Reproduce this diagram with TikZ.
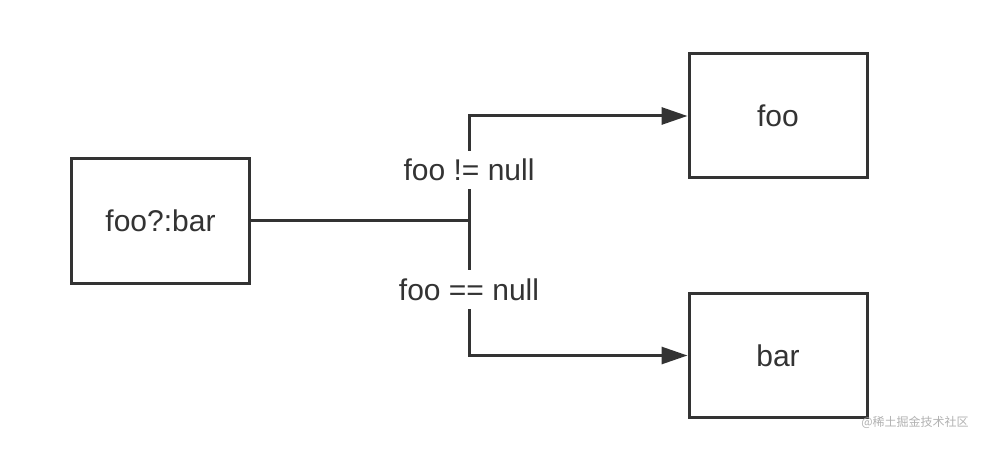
\documentclass[tikz,border=0pt]{standalone}
\usepackage{fontspec}
\setmainfont{Liberation Sans}
\newfontfamily\cjkfont{Noto Sans CJK SC}
\usetikzlibrary{arrows.meta}
\definecolor{ink}{HTML}{333333}
\begin{document}
\begin{tikzpicture}[x=1pt,y=-1pt,
  box/.style={draw=ink,line width=3pt,fill=white,minimum width=178pt,minimum height=125pt,inner sep=0pt,
    font=\fontsize{30}{36}\selectfont,text=ink},
  conn/.style={draw=ink,line width=3pt},
  arr/.style={conn,-{Triangle[length=26pt,width=17pt]}},
  lbl/.style={fill=white,inner xsep=2pt,inner ysep=0pt,minimum height=38pt,font=\fontsize{30}{36}\selectfont,text=ink}]
\useasboundingbox[fill=white] (0,0) rectangle (1001,470);
\node[box] (src) at (160.5,221) {foo?:bar};
\node[box,minimum height=124pt] (foo) at (778,116) {foo};
\node[box,minimum height=123pt] (bar) at (778,355.5) {bar};
\coordinate (j) at (469,221);
\draw[conn] (src.east) -- (j);
\draw[arr] (j) |- (foo.west);
\draw[arr] (j) |- (bar.west);
\node[lbl] (ne) at (469,170) {foo != null};
\node[lbl] (eq) at (469,289.5) {foo == null};
\node[text=black!30,font=\cjkfont\fontsize{12}{14}\selectfont] (wm) at (915,422) {@稀土掘金技术社区};
\end{tikzpicture}
\end{document}
